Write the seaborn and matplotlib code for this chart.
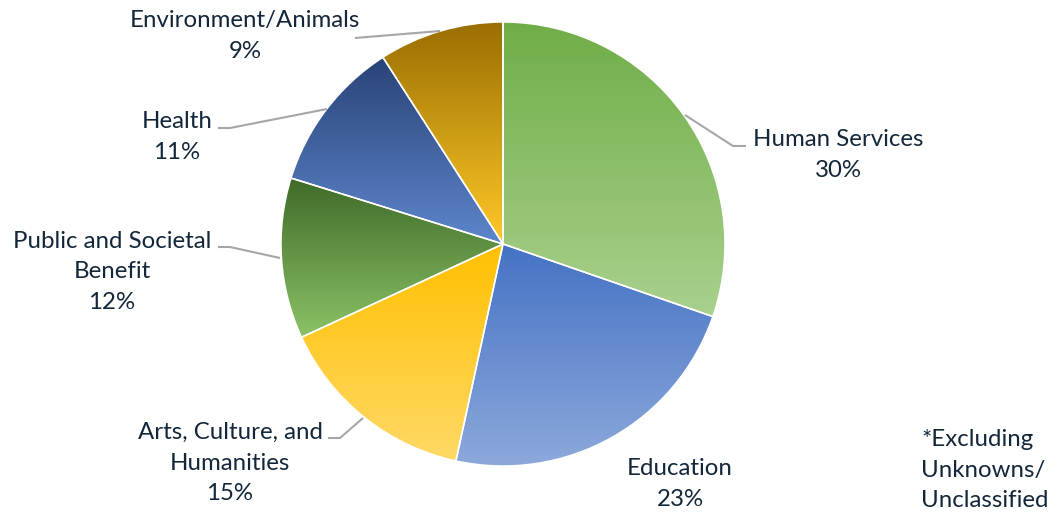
import numpy as np
import matplotlib
matplotlib.use("Agg")
import matplotlib.pyplot as plt
import seaborn as sns
from matplotlib.colors import LinearSegmentedColormap

sns.set_theme(style="white")
plt.rcParams['font.family'] = ['Lato', 'DejaVu Sans']

categories = ["Human Services", "Education", "Arts, Culture, and\nHumanities",
              "Public and Societal\nBenefit", "Health", "Environment/Animals"]
values = [30.3, 23.1, 14.7, 11.7, 11.1, 9.1]
pct_labels = ["30%", "23%", "15%", "12%", "11%", "9%"]
top_colors = ["#70AD47", "#4472C4", "#FFC000", "#3E6A28", "#294377", "#9A6E02"]
bottom_colors = ["#A9D18E", "#8FAADC", "#FFD966", "#8BC266", "#5E86CC", "#FFC928"]

TEXT = "#13263A"
W, H = 1054, 516
fig = plt.figure(figsize=(W / 100, H / 100), dpi=100)
ax = fig.add_axes([0, 0, 1, 1])

cx, cy, r = 503, H - 244, 222
wedges, _ = ax.pie(values, startangle=90, counterclock=False, center=(cx, cy),
                   radius=r, frame=True,
                   wedgeprops=dict(linewidth=1.1, edgecolor="white", facecolor="none"))
ax.set_xlim(0, W)
ax.set_ylim(0, H)
ax.set_aspect("equal")
ax.axis("off")

for w, c0, c1 in zip(wedges, top_colors, bottom_colors):
    path = w.get_path().transformed(w.get_patch_transform())
    verts = path.vertices
    y0, y1 = verts[:, 1].min(), verts[:, 1].max()
    x0, x1 = verts[:, 0].min(), verts[:, 0].max()
    cmap = LinearSegmentedColormap.from_list("g", [c1, c0])
    grad = np.linspace(0, 1, 256).reshape(-1, 1)
    im = ax.imshow(grad, cmap=cmap, origin="lower", extent=(x0, x1, y0, y1),
                   aspect="auto", zorder=1, interpolation="bilinear")
    im.set_clip_path(w)
    w.set_zorder(2)

# leader lines (pixel coords from top)
leaders = [
    [(685, 115), (733, 146), (746, 146)],
    None,
    [(363, 418), (340, 438), (328, 438)],
    [(280, 258), (230, 247), (218, 247)],
    [(327, 109), (230, 128), (218, 128)],
    [(440, 31), (355, 38)],
]
for pts in leaders:
    if pts is None:
        continue
    xs = [p[0] for p in pts]
    ys = [H - p[1] for p in pts]
    ax.plot(xs, ys, color="#A6A6A6", lw=1.5, zorder=3, solid_capstyle="butt")

label_pos = [(838, 155), (680, 484), (230, 463), (112, 272), (177, 137), (245, 36)]
for cat, pct, (lx, ly) in zip(categories, pct_labels, label_pos):
    ax.text(lx, H - ly, f"{cat}\n{pct}", ha="center", va="center", fontsize=17.3,
            color=TEXT, linespacing=1.58, zorder=4)

ax.text(921, H - 470, "*Excluding\nUnknowns/\nUnclassified", ha="left", va="center",
        fontsize=17.3, color=TEXT, linespacing=1.55)

fig.savefig("out.png", dpi=100)
